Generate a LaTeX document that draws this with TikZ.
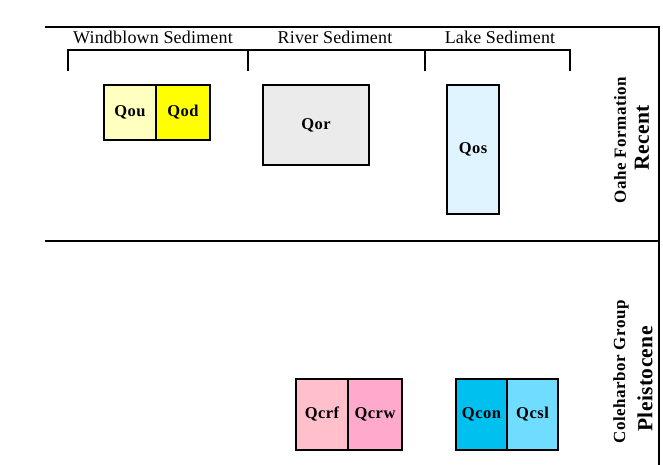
\documentclass[tikz,border=0pt]{standalone}
\usepackage{fontspec}
\setmainfont{Liberation Serif}
\newfontfamily\spacedA[LetterSpace=1]{Liberation Serif}
\newfontfamily\spacedB[LetterSpace=3]{Liberation Serif}
\newfontfamily\spacedC[LetterSpace=2]{Liberation Serif}
\begin{document}
\begin{tikzpicture}[x=1pt,y=-1pt,
  rule/.style={line width=1.8pt},
  unit/.style={draw=black,line width=1.8pt,font=\spacedB\bfseries\fontsize{16.5}{18}\selectfont,inner sep=0pt},
  head/.style={font=\spacedA\fontsize{18}{20}\selectfont,anchor=base},
  period/.style={font=\spacedC\bfseries\fontsize{21.5}{24}\selectfont,rotate=90},
  group/.style={font=\spacedB\bfseries\fontsize{17}{19}\selectfont,rotate=90}]
\useasboundingbox (0,0) rectangle (663,465);
% frame
\coordinate (tl) at (45,27);
\coordinate (tr) at (659,27);
\coordinate (ml) at (45,241);
\coordinate (mr) at (659,241);
\coordinate (br) at (659,465);
\draw[rule] (tl) -- (tr) -- (br);
\draw[rule] (ml) -- (mr);
% bracket
\coordinate (b1) at (68,50);
\coordinate (b2) at (248,50);
\coordinate (b3) at (425,50);
\coordinate (b4) at (570,50);
\draw[rule] (68,71) -- (b1) -- (b4) -- (570,71);
\draw[rule] (b2) -- (248,71);
\draw[rule] (b3) -- (425,71);
\node[head] (h1) at (153,44) {Windblown Sediment};
\node[head] (h2) at (335,44) {River Sediment};
\node[head] (h3) at (500,44) {Lake Sediment};
% units
\node[unit,fill={rgb,255:red,255;green,255;blue,192},minimum width=52pt,minimum height=55pt] (qou) at (130,112.5) {Qou};
\node[unit,fill={rgb,255:red,255;green,255;blue,0},minimum width=54pt,minimum height=55pt] (qod) at (183,112.5) {Qod};
\node[unit,fill={rgb,255:red,235;green,235;blue,235},minimum width=106pt,minimum height=80pt] (qor) at (316,125) {Qor};
\node[unit,fill={rgb,255:red,224;green,244;blue,255},minimum width=52pt,minimum height=129pt] (qos) at (473,149.5) {Qos};
\node[unit,fill={rgb,255:red,255;green,192;blue,204},minimum width=52pt,minimum height=71pt] (qcrf) at (322,414.5) {Qcrf};
\node[unit,fill={rgb,255:red,255;green,170;blue,204},minimum width=54pt,minimum height=71pt] (qcrw) at (375,414.5) {Qcrw};
\node[unit,fill={rgb,255:red,0;green,192;blue,240},minimum width=51pt,minimum height=71pt] (qcon) at (481.5,414.5) {Qcon};
\node[unit,fill={rgb,255:red,112;green,220;blue,255},minimum width=51pt,minimum height=71pt] (qcsl) at (532.5,414.5) {Qcsl};
% right labels
\node[group] (oahe) at (620,140) {Oahe Formation};
\node[period] (recent) at (642,138) {Recent};
\node[group] (cole) at (621,372) {Coleharbor Group};
\node[period] (pleist) at (645,379) {Pleistocene};
\end{tikzpicture}
\end{document}
